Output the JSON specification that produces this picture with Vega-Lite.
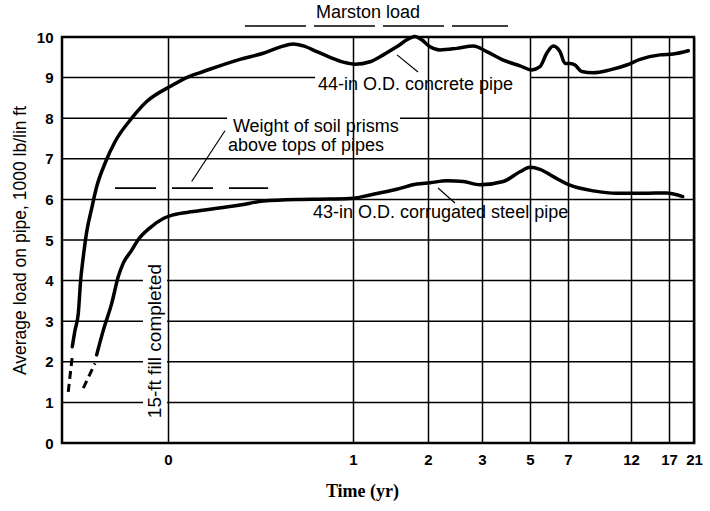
{
  "$schema": "https://vega.github.io/schema/vega-lite/v6.json",
  "width": 632,
  "height": 406,
  "autosize": "none",
  "padding": {"left": 62, "top": 37, "right": 16, "bottom": 68},
  "background": "white",
  "config": {
    "view": {"stroke": "black", "strokeWidth": 2.5},
    "font": "Liberation Sans",
    "axis": {"labelFont": "Liberation Sans", "labelFontSize": 15, "labelFontWeight": "bold", "labelColor": "black", "titleColor": "black", "ticks": false, "domain": false}
  },
  "datasets": {
    "grid": [
      {"v": 9, "t": -1, "t2": 0.795}, {"v": 9, "t": 5.0, "t2": 21},
      {"v": 8, "t": -1, "t2": 0.319}, {"v": 8, "t": 1.627, "t2": 21},
      {"v": 7, "t": -1, "t2": 21}, {"v": 6, "t": -1, "t2": 21}, {"v": 5, "t": -1, "t2": 21},
      {"v": 4, "t": -1, "t2": -0.236}, {"v": 4, "t": -0.009, "t2": 21},
      {"v": 3, "t": -1, "t2": -0.236}, {"v": 3, "t": -0.009, "t2": 21},
      {"v": 2, "t": -1, "t2": -0.236}, {"v": 2, "t": -0.009, "t2": 21},
      {"v": 1, "t": -1, "t2": -0.236}, {"v": 1, "t": -0.009, "t2": 21}
    ],
    "curves": [
      {"series": "concrete", "t": -0.903, "v": 2.37}, {"series": "concrete", "t": -0.877, "v": 2.78}, {"series": "concrete", "t": -0.846, "v": 3.2}, {"series": "concrete", "t": -0.824, "v": 4.01}, {"series": "concrete", "t": -0.799, "v": 4.59}, {"series": "concrete", "t": -0.767, "v": 5.2}, {"series": "concrete", "t": -0.72, "v": 5.78}, {"series": "concrete", "t": -0.673, "v": 6.31}, {"series": "concrete", "t": -0.594, "v": 6.89}, {"series": "concrete", "t": -0.5, "v": 7.42}, {"series": "concrete", "t": -0.342, "v": 8.0}, {"series": "concrete", "t": -0.201, "v": 8.41}, {"series": "concrete", "t": 0.011, "v": 8.78}, {"series": "concrete", "t": 0.11, "v": 9.02}, {"series": "concrete", "t": 0.191, "v": 9.15}, {"series": "concrete", "t": 0.389, "v": 9.45}, {"series": "concrete", "t": 0.515, "v": 9.6}, {"series": "concrete", "t": 0.605, "v": 9.75}, {"series": "concrete", "t": 0.677, "v": 9.83}, {"series": "concrete", "t": 0.731, "v": 9.78}, {"series": "concrete", "t": 0.804, "v": 9.64}, {"series": "concrete", "t": 0.876, "v": 9.5}, {"series": "concrete", "t": 0.948, "v": 9.38}, {"series": "concrete", "t": 1.027, "v": 9.33}, {"series": "concrete", "t": 1.227, "v": 9.39}, {"series": "concrete", "t": 1.404, "v": 9.56}, {"series": "concrete", "t": 1.583, "v": 9.76}, {"series": "concrete", "t": 1.76, "v": 9.97}, {"series": "concrete", "t": 1.827, "v": 10.01}, {"series": "concrete", "t": 1.916, "v": 9.93}, {"series": "concrete", "t": 2.037, "v": 9.76}, {"series": "concrete", "t": 2.222, "v": 9.68}, {"series": "concrete", "t": 2.531, "v": 9.72}, {"series": "concrete", "t": 2.84, "v": 9.78}, {"series": "concrete", "t": 3.196, "v": 9.64}, {"series": "concrete", "t": 3.888, "v": 9.43}, {"series": "concrete", "t": 4.583, "v": 9.29}, {"series": "concrete", "t": 5.089, "v": 9.19}, {"series": "concrete", "t": 5.526, "v": 9.27}, {"series": "concrete", "t": 5.879, "v": 9.6}, {"series": "concrete", "t": 6.226, "v": 9.78}, {"series": "concrete", "t": 6.579, "v": 9.64}, {"series": "concrete", "t": 6.842, "v": 9.35}, {"series": "concrete", "t": 7.159, "v": 9.35}, {"series": "concrete", "t": 7.556, "v": 9.31}, {"series": "concrete", "t": 8.087, "v": 9.15}, {"series": "concrete", "t": 9.008, "v": 9.12}, {"series": "concrete", "t": 10.333, "v": 9.19}, {"series": "concrete", "t": 11.659, "v": 9.31}, {"series": "concrete", "t": 13.184, "v": 9.45}, {"series": "concrete", "t": 15.816, "v": 9.56}, {"series": "concrete", "t": 17.688, "v": 9.58}, {"series": "concrete", "t": 20.088, "v": 9.66},
      {"series": "steel", "t": -0.673, "v": 2.17}, {"series": "steel", "t": -0.61, "v": 2.78}, {"series": "steel", "t": -0.531, "v": 3.44}, {"series": "steel", "t": -0.469, "v": 4.1}, {"series": "steel", "t": -0.422, "v": 4.43}, {"series": "steel", "t": -0.342, "v": 4.75}, {"series": "steel", "t": -0.283, "v": 5.0}, {"series": "steel", "t": -0.17, "v": 5.3}, {"series": "steel", "t": -0.044, "v": 5.53}, {"series": "steel", "t": 0.029, "v": 5.62}, {"series": "steel", "t": 0.137, "v": 5.7}, {"series": "steel", "t": 0.389, "v": 5.86}, {"series": "steel", "t": 0.515, "v": 5.96}, {"series": "steel", "t": 0.696, "v": 6.0}, {"series": "steel", "t": 0.876, "v": 6.01}, {"series": "steel", "t": 1.004, "v": 6.03}, {"series": "steel", "t": 1.227, "v": 6.11}, {"series": "steel", "t": 1.583, "v": 6.25}, {"series": "steel", "t": 1.849, "v": 6.38}, {"series": "steel", "t": 2.037, "v": 6.41}, {"series": "steel", "t": 2.346, "v": 6.46}, {"series": "steel", "t": 2.654, "v": 6.44}, {"series": "steel", "t": 2.963, "v": 6.36}, {"series": "steel", "t": 3.888, "v": 6.44}, {"series": "steel", "t": 4.583, "v": 6.68}, {"series": "steel", "t": 5.0, "v": 6.79}, {"series": "steel", "t": 5.526, "v": 6.74}, {"series": "steel", "t": 6.226, "v": 6.56}, {"series": "steel", "t": 7.159, "v": 6.35}, {"series": "steel", "t": 9.008, "v": 6.21}, {"series": "steel", "t": 10.865, "v": 6.15}, {"series": "steel", "t": 13.618, "v": 6.15}, {"series": "steel", "t": 16.697, "v": 6.16}, {"series": "steel", "t": 19.192, "v": 6.07}
    ],
    "dashedCurves": [
      {"series": "concrete", "t": -0.941, "v": 1.26}, {"series": "concrete", "t": -0.903, "v": 2.14},
      {"series": "steel", "t": -0.799, "v": 1.35}, {"series": "steel", "t": -0.689, "v": 1.96}
    ],
    "leaders": [
      {"t": 1.587, "v": 9.56, "t2": 1.867, "v2": 9.14},
      {"t": 2.185, "v": 6.28, "t2": 2.5, "v2": 5.91},
      {"t": 0.128, "v": 6.44, "t2": 0.308, "v2": 7.69}
    ],
    "weightLine": [{"t": -0.5, "v": 6.28, "t2": 0.541, "v2": 6.28}],
    "marstonLine": [{"t": 0.416, "v": 10.27, "t2": 4.083, "v2": 10.27}],
    "labels": [
      {"label": "44-in O.D. concrete pipe", "t": 0.811, "v": 8.82},
      {"label": "Weight of soil prisms", "t": 0.351, "v": 7.78},
      {"label": "above tops of pipes", "t": 0.324, "v": 7.32},
      {"label": "43-in O.D. corrugated steel pipe", "t": 0.784, "v": 5.67}
    ],
    "topLabel": [{"label": "Marston load", "t": 1.2, "v": 10.59}],
    "fillLabel": [{"label": "15-ft fill completed", "t": -0.123, "v": 2.51}]
  },
  "encoding": {
    "x": {
      "field": "t", "type": "quantitative",
      "scale": {"domain": [-1, 0, 1, 2, 3, 5, 7, 12, 17, 21], "range": [0, 106, 291, 366, 420, 468, 506, 569, 607, 632], "nice": false, "zero": false},
      "axis": {"values": [0, 1, 2, 3, 5, 7, 12, 17, 21], "grid": true, "gridColor": "black", "gridWidth": 1.5, "gridOpacity": 1, "labelPadding": 9, "title": "Time (yr)", "titleFont": "Liberation Serif", "titleFontSize": 18, "titleFontWeight": "bold", "titlePadding": 15, "titleX": 300, "titleAlign": "center", "labelFlush": false}
    },
    "y": {
      "field": "v", "type": "quantitative",
      "scale": {"domain": [0, 10], "nice": false, "zero": false},
      "axis": {"values": [0, 1, 2, 3, 4, 5, 6, 7, 8, 9, 10], "grid": false, "labelPadding": 9, "title": "Average load on pipe, 1000 lb/lin ft", "titleFont": "Liberation Sans", "titleFontSize": 17.5, "titleFontWeight": "normal", "titlePadding": 7}
    }
  },
  "layer": [
    {
      "data": {"name": "grid"},
      "mark": {"type": "rule", "color": "black", "strokeWidth": 1.5},
      "encoding": {"x2": {"field": "t2"}}
    },
    {
      "data": {"name": "weightLine"},
      "mark": {"type": "rule", "color": "black", "strokeWidth": 1.8, "strokeDash": [41, 16]},
      "encoding": {"x2": {"field": "t2"}, "y2": {"field": "v2"}}
    },
    {
      "data": {"name": "marstonLine"},
      "mark": {"type": "rule", "color": "black", "strokeWidth": 1.5, "strokeDash": [61, 8], "clip": false},
      "encoding": {"x2": {"field": "t2"}, "y2": {"field": "v2"}}
    },
    {
      "data": {"name": "leaders"},
      "mark": {"type": "rule", "color": "black", "strokeWidth": 1.2},
      "encoding": {"x2": {"field": "t2"}, "y2": {"field": "v2"}}
    },
    {
      "data": {"name": "curves"},
      "mark": {"type": "line", "color": "black", "strokeWidth": 3.5, "interpolate": "monotone", "strokeCap": "round", "strokeJoin": "round"},
      "encoding": {"detail": {"field": "series"}}
    },
    {
      "data": {"name": "dashedCurves"},
      "mark": {"type": "line", "color": "black", "strokeWidth": 3, "strokeDash": [8, 5]},
      "encoding": {"detail": {"field": "series"}}
    },
    {
      "data": {"name": "labels"},
      "mark": {"type": "text", "align": "left", "baseline": "middle", "fontSize": 18, "font": "Liberation Sans", "color": "black"},
      "encoding": {"text": {"field": "label"}}
    },
    {
      "data": {"name": "topLabel"},
      "mark": {"type": "text", "align": "center", "baseline": "middle", "fontSize": 18, "font": "Liberation Sans", "color": "black"},
      "encoding": {"text": {"field": "label"}}
    },
    {
      "data": {"name": "fillLabel"},
      "mark": {"type": "text", "align": "center", "baseline": "middle", "angle": 270, "fontSize": 19, "font": "Liberation Sans", "color": "black"},
      "encoding": {"text": {"field": "label"}}
    }
  ]
}
